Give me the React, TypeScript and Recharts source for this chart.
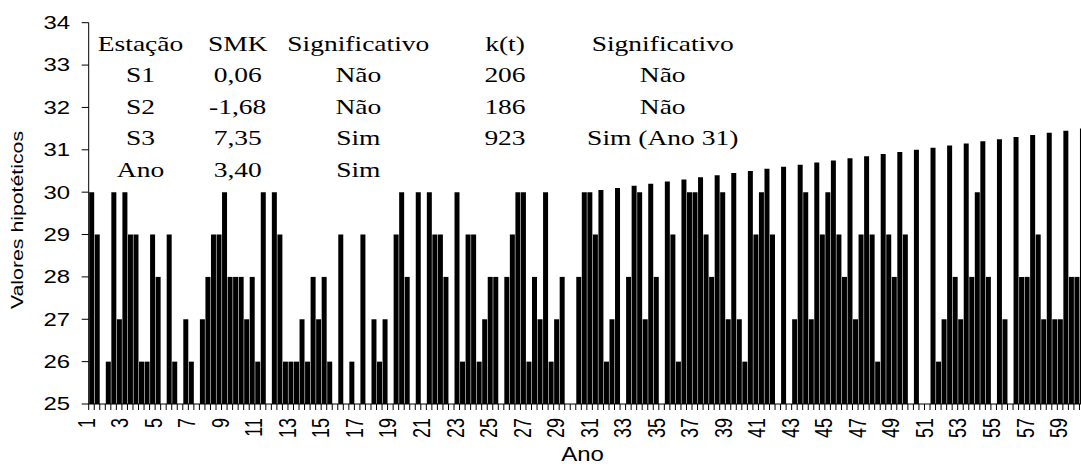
import React from "react";
import { BarChart, Bar, XAxis, YAxis } from "recharts";

// Hypothetical annual values for three stations (S1, S2, S3), years 1..60
const STATIONS = ["S1", "S2", "S3"];

const S1 = [
  30, 26, 30, 26, 28, 26, 26, 28, 30, 28,
  26, 30, 26, 26, 28, 29, 25, 27, 25, 28,
  25, 29, 30, 29, 28, 28, 30, 27, 27, 25,
  30, 26, 25, 30, 28, 29, 30, 29, 30, 27,
  29, 29, 25, 30, 29, 29, 27, 29, 29, 29,
  25, 26, 28, 28, 28, 27, 28, 29, 27, 28,
];

const S2 = [
  29, 30, 29, 26, 25, 25, 25, 29, 28, 27,
  30, 29, 26, 28, 26, 25, 29, 26, 29, 25,
  30, 28, 26, 26, 28, 29, 26, 30, 28, 28,
  29, 27, 28, 27, 25, 26, 30, 28, 27, 26,
  30, 25, 27, 27, 30, 28, 29, 26, 28, 25,
  25, 27, 27, 30, 25, 25, 28, 27, 27, 28,
];

const S3 = [
  25, 27, 29, 29, 29, 27, 27, 29, 28, 28,
  25, 26, 27, 27, 25, 26, 25, 27, 30, 30,
  29, 25, 29, 27, 25, 30, 28, 26, 25, 30,
  30.05, 30.1, 30.15, 30.2, 30.25, 30.3, 30.35, 30.4, 30.45, 30.5,
  30.55, 30.6, 30.65, 30.7, 30.75, 30.8, 30.85, 30.9, 30.95, 31.0,
  31.05, 31.1, 31.15, 31.2, 31.25, 31.3, 31.35, 31.4, 31.45, 31.5,
];

const Y_TICKS = [25, 26, 27, 28, 29, 30, 31, 32, 33, 34];

const TABLE_HEADER = ["Estação", "SMK", "Significativo", "k(t)", "Significativo"];
const TABLE_ROWS = [
  ["S1", "0,06", "Não", "206", "Não"],
  ["S2", "-1,68", "Não", "186", "Não"],
  ["S3", "7,35", "Sim", "923", "Sim (Ano 31)"],
  ["Ano", "3,40", "Sim", "", ""],
];

// One bar per station per year, stations side by side inside each year
const rows = S1.flatMap((_, i) =>
  [S1, S2, S3].map((serie, j) => ({
    key: `${i + 1}-${STATIONS[j]}`,
    ano: i + 1,
    valor: serie[i],
  }))
);

// Layout
const VIEW_W = 1081;
const VIEW_H = 466;
const CHART_W = 1085;
const CHART_H = 466;
const PLOT_LEFT = 88.7;
const PLOT_TOP = 22.7;
const PLOT_BOTTOM = 404;
const BAND = (CHART_W - PLOT_LEFT) / rows.length;
const LABEL_EVERY = 6; // every second year
const SANS = "'Liberation Sans', Arial, sans-serif";
const SERIF = "'Liberation Serif', 'Times New Roman', serif";

const TABLE_COLS = [140.5, 237.7, 358.3, 505, 662.7];
const TABLE_BASELINES = [50.5, 82, 113.5, 145, 176.7];

function XTick(props: any) {
  const { x, index } = props;
  const boundary = x - BAND / 2;
  const showLabel = index % LABEL_EVERY === 0;
  const shift = -5.3 + 0.0534 * index;
  return (
    <g>
      <line x1={boundary} x2={boundary} y1={PLOT_BOTTOM} y2={PLOT_BOTTOM + 6} stroke="#000" strokeWidth={1} />
      {showLabel && (
        <text
          transform={`translate(${x + shift},418) scale(1.32,1) rotate(-90)`}
          textAnchor="end"
          dy="0.358em"
          fontFamily={SANS}
          fontSize={18}
          fill="#000"
        >
          {rows[index].ano}
        </text>
      )}
    </g>
  );
}

function YTick(props: any) {
  const { x, y, payload } = props;
  return (
    <text
      transform={`translate(${x},${y}) scale(1.33,1)`}
      textAnchor="end"
      dy="0.355em"
      fontFamily={SANS}
      fontSize={18}
      fill="#000"
    >
      {payload.value}
    </text>
  );
}

function Overlay() {
  const lines = [TABLE_HEADER, ...TABLE_ROWS];
  return (
    <svg
      width={VIEW_W}
      height={VIEW_H}
      style={{ position: "absolute", left: 0, top: 0, pointerEvents: "none" }}
    >
      {lines.map((cells, r) =>
        cells.map((txt, c) =>
          txt ? (
            <text
              key={`${r}-${c}`}
              transform={`translate(${TABLE_COLS[c]},${TABLE_BASELINES[r]}) scale(1.25,1)`}
              textAnchor="middle"
              fontFamily={SERIF}
              fontSize={22}
              fill="#000"
            >
              {txt}
            </text>
          ) : null
        )
      )}
      <text
        transform="translate(23,220) rotate(-90) scale(1.29,1)"
        textAnchor="middle"
        fontFamily={SANS}
        fontSize={16.5}
        fill="#000"
      >
        Valores hipotéticos
      </text>
      <text
        transform="translate(582.5,461) scale(1.2,1)"
        textAnchor="middle"
        fontFamily={SANS}
        fontSize={20}
        fill="#000"
      >
        Ano
      </text>
    </svg>
  );
}

export default function App() {
  return (
    <div
      style={{
        position: "absolute",
        left: 0,
        top: 0,
        width: VIEW_W,
        height: VIEW_H,
        overflow: "hidden",
        background: "#fff",
      }}
    >
      <BarChart
        width={CHART_W}
        height={CHART_H}
        data={rows}
        margin={{ top: PLOT_TOP, right: 0, bottom: 0, left: 0 }}
        barCategoryGap={0.5}
      >
        <XAxis
          dataKey="key"
          type="category"
          interval={0}
          height={CHART_H - PLOT_BOTTOM}
          tick={<XTick />}
          tickLine={false}
          axisLine={{ stroke: "#000", strokeWidth: 1 }}
        />
        <YAxis
          type="number"
          domain={[25, 34]}
          ticks={Y_TICKS}
          allowDataOverflow
          width={PLOT_LEFT}
          tickSize={7}
          tickMargin={11.7}
          tick={<YTick />}
          tickLine={{ stroke: "#000", strokeWidth: 1 }}
          axisLine={{ stroke: "#000", strokeWidth: 1 }}
        />
        <Bar dataKey="valor" fill="#000" isAnimationActive={false} />
      </BarChart>
      <Overlay />
    </div>
  );
}
